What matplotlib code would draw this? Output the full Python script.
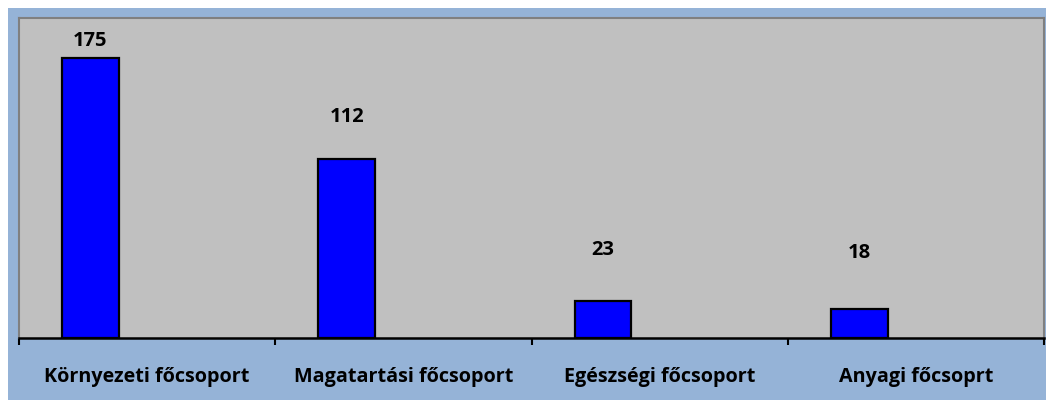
import matplotlib
matplotlib.use("Agg")
from matplotlib import pyplot as plt
from matplotlib.patches import Rectangle

# chart data
categories = ["Környezeti főcsoport", "Magatartási főcsoport",
              "Egészségi főcsoport", "Anyagi főcsoprt"]
values = [175, 112, 23, 18]
# where the value labels sit (data units)
label_y = [185.8, 138.3, 55.0, 53.3]

plt.rcParams['font.family'] = ['Open Sans', 'DejaVu Sans']

fig = plt.figure(figsize=(10.46, 4.03), dpi=100, facecolor='white')
# light blue chart area behind the axes
fig.patches.append(Rectangle((8/1046, 3/403), 1 - 8/1046, 1 - 11/403,
                             transform=fig.transFigure, facecolor='#95B3D7',
                             edgecolor='none', zorder=-10))

ax = fig.add_axes([19/1046, 65/403, 1025/1046, 320/403])
ax.set_facecolor('#C0C0C0')

x = list(range(len(categories)))
bar_x = [i - 0.221 for i in x]
ax.bar(bar_x, values, width=0.222, color='#0000FF', edgecolor='black', linewidth=1.6, zorder=3)

for bx, v, ly in zip(bar_x, values, label_y):
    ax.text(bx, ly, str(v), ha='center', va='center', fontsize=14.5, fontweight='bold')

ax.set_xlim(-0.5, 3.5)
ax.set_ylim(0, 200)
ax.set_yticks([])

ax.set_xticks(x)
ax.set_xticklabels(categories, fontsize=14.2, fontweight='bold')
ax.tick_params(axis='x', which='major', length=0, pad=21)
ax.set_xticks([-0.5, 0.5, 1.5, 2.5, 3.5], minor=True)
ax.tick_params(axis='x', which='minor', length=5, width=1.5, direction='out', color='black')

for side in ['top', 'left', 'right']:
    ax.spines[side].set_color('#808080')
    ax.spines[side].set_linewidth(1.5)
ax.spines['bottom'].set_color('black')
ax.spines['bottom'].set_linewidth(1.8)

plt.savefig('out.png', dpi=100, facecolor='white')
